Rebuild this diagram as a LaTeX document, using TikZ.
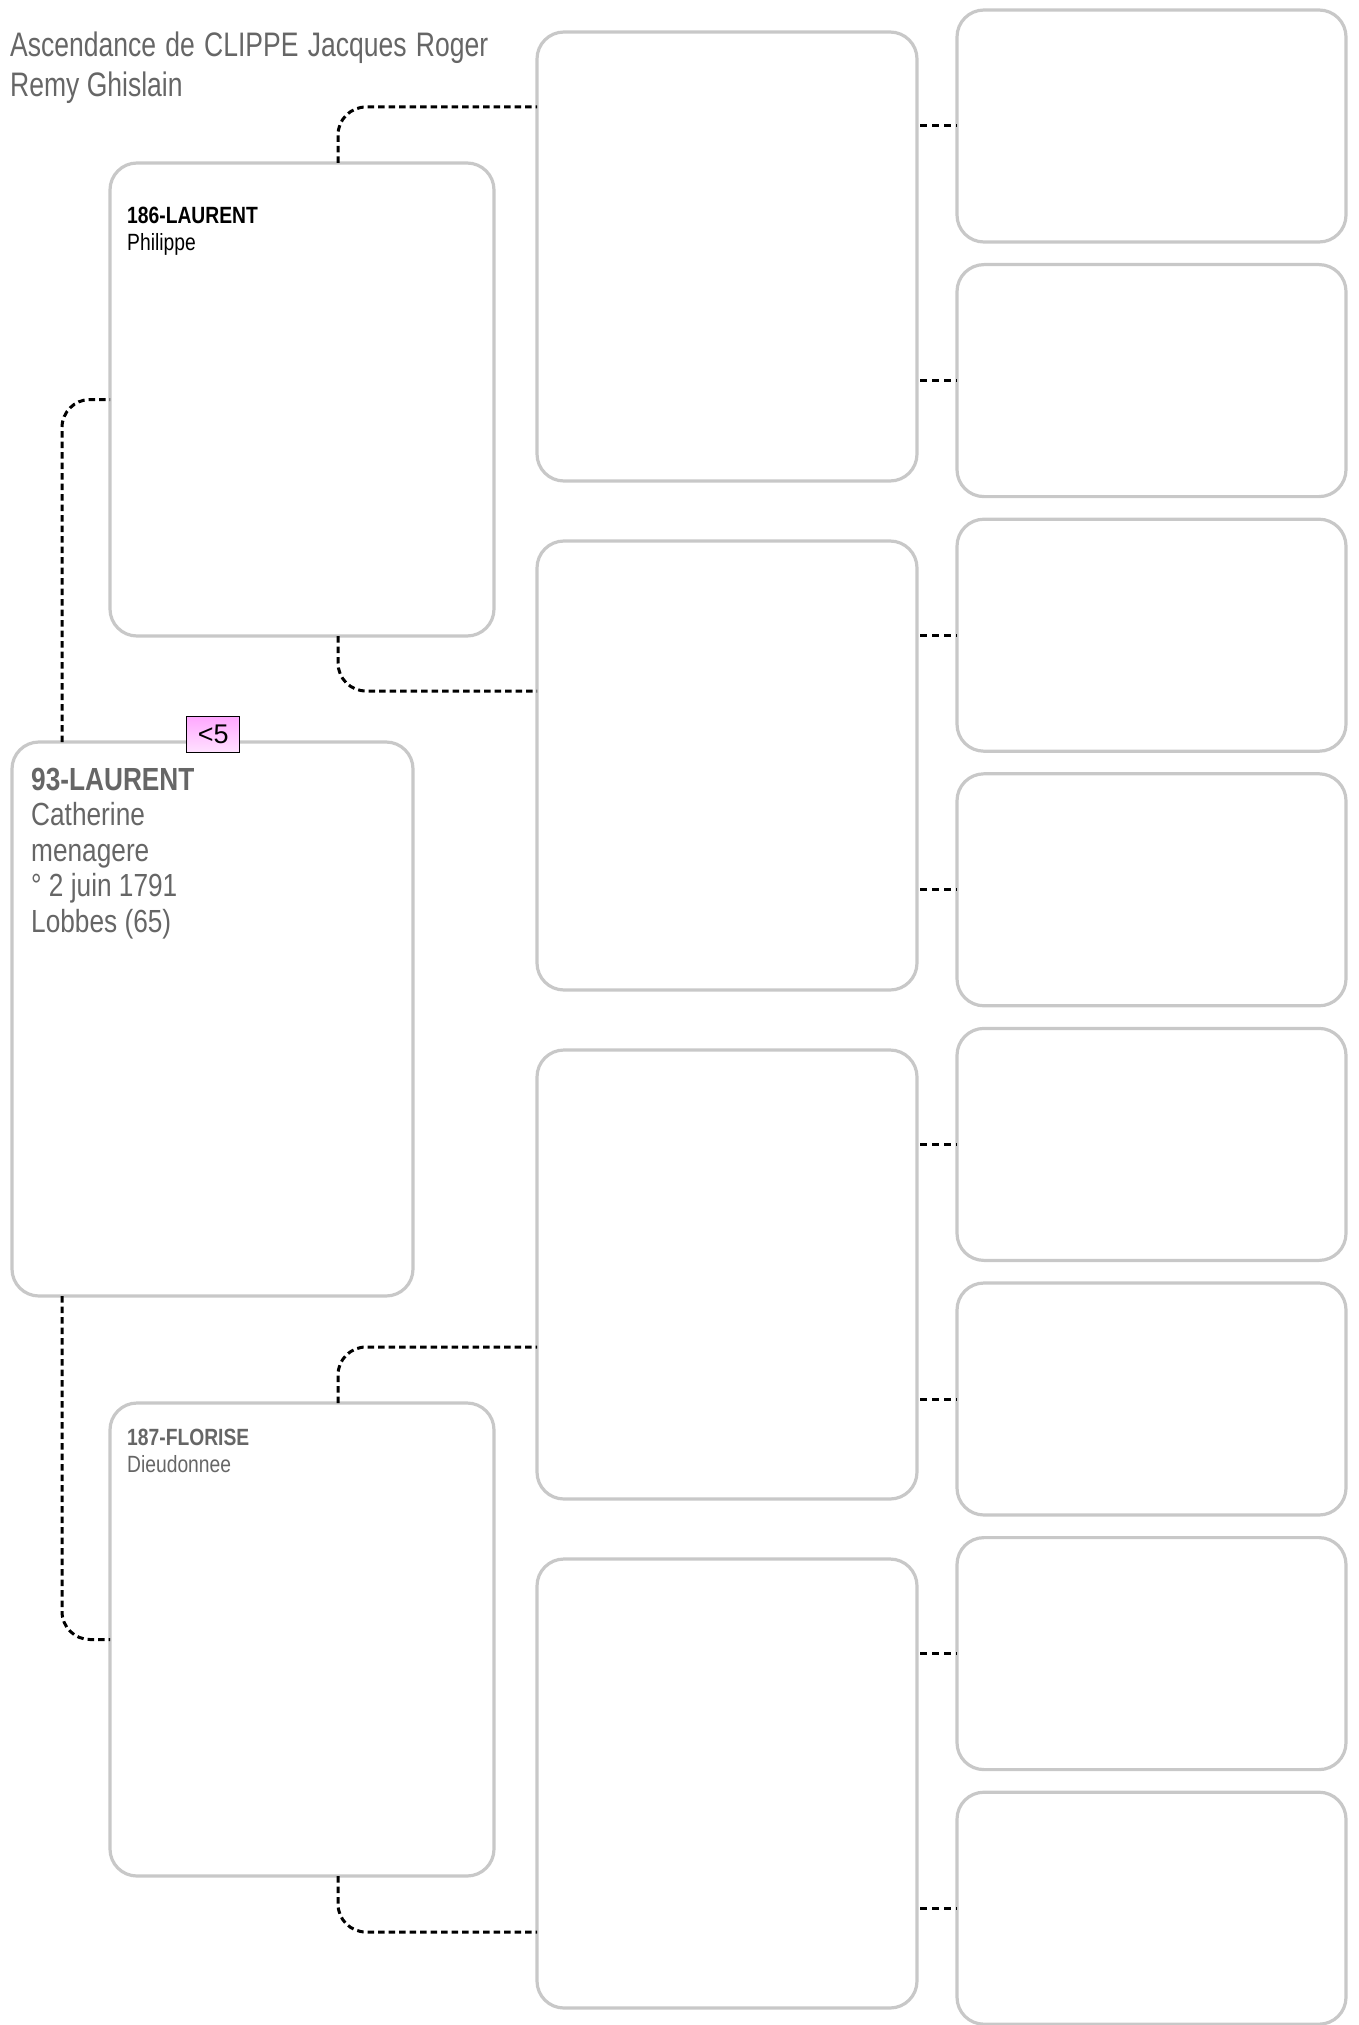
\documentclass[tikz,border=0pt]{standalone}
\usepackage{fontspec}
\setmainfont{Liberation Sans}
\newfontfamily\nar{Liberation Sans}[FakeStretch=0.82]
\newfontfamily\narttl{Liberation Sans}[FakeStretch=0.78]
\usetikzlibrary{calc}
\definecolor{boxgrey}{HTML}{C8C8C8}
\definecolor{txtgrey}{HTML}{666666}
\definecolor{pinktop}{HTML}{FFA8FF}
\definecolor{pinkbot}{HTML}{FFE2FF}
\begin{document}
\begin{tikzpicture}[x=1pt,y=-1pt,
  pbox/.style={draw=boxgrey, line width=3.2pt, rounded corners=27pt, inner sep=0pt, outer sep=0pt, anchor=north west},
  gthree/.style={pbox, minimum width=380pt, minimum height=449pt},
  gfour/.style={pbox, minimum width=389pt, minimum height=232pt},
  conn/.style={draw=black, line width=3pt, dash pattern=on 6.5pt off 4pt, rounded corners=28pt},
  stub/.style={draw=black, line width=3pt, dash pattern=on 7pt off 5pt},
  ttl/.style={anchor=base west, inner sep=0pt, text=txtgrey, font=\narttl\fontsize{34}{36}\selectfont},
  gone/.style={anchor=base west, inner sep=0pt, text=txtgrey, font=\nar\fontsize{32}{35}\selectfont},
  gtwo/.style={anchor=base west, inner sep=0pt, font=\nar\fontsize{23.5}{25}\selectfont},
  ]
\useasboundingbox (0,0) rectangle (1358,2025);

% boxes
\node[pbox, minimum width=401pt, minimum height=554pt] (g1) at (12,742) {};
\node[pbox, minimum width=384pt, minimum height=473pt] (p186) at (110,163) {};
\node[pbox, minimum width=384pt, minimum height=473pt] (p187) at (110,1403) {};

\node[gthree] (g3a) at (537,32) {};
\node[gthree] (g3b) at (537,541) {};
\node[gthree] (g3c) at (537,1050) {};
\node[gthree] (g3d) at (537,1559) {};

\node[gfour] (g4a) at (957,10) {};
\node[gfour] (g4b) at (957,264.6) {};
\node[gfour] (g4c) at (957,519.2) {};
\node[gfour] (g4d) at (957,773.8) {};
\node[gfour] (g4e) at (957,1028.4) {};
\node[gfour] (g4f) at (957,1283) {};
\node[gfour] (g4g) at (957,1537.6) {};
\node[gfour] (g4h) at (957,1792.2) {};

% connector levels
\coordinate (k186t) at (0,107);
\coordinate (k186b) at (0,691);
\coordinate (k187t) at (0,1347);
\coordinate (k187b) at (0,1932);

% gen1 -> gen2
\draw[conn] ([xshift=50pt]g1.north west) |- (p186.west);
\draw[conn] ([xshift=50pt]g1.south west) |- (p187.west);

% gen2 -> gen3
\draw[conn] ([xshift=228pt]p186.north west) |- (g3a.west |- k186t);
\draw[conn] ([xshift=228pt]p186.south west) |- (g3b.west |- k186b);
\draw[conn] ([xshift=228pt]p187.north west) |- (g3c.west |- k187t);
\draw[conn] ([xshift=228pt]p187.south west) |- (g3d.west |- k187b);

% gen3 -> gen4
\draw[stub] ([xshift=3pt]g3a.east |- g4a.west) -- (g4a.west);
\draw[stub] ([xshift=3pt]g3a.east |- g4b.west) -- (g4b.west);
\draw[stub] ([xshift=3pt]g3b.east |- g4c.west) -- (g4c.west);
\draw[stub] ([xshift=3pt]g3b.east |- g4d.west) -- (g4d.west);
\draw[stub] ([xshift=3pt]g3c.east |- g4e.west) -- (g4e.west);
\draw[stub] ([xshift=3pt]g3c.east |- g4f.west) -- (g4f.west);
\draw[stub] ([xshift=3pt]g3d.east |- g4g.west) -- (g4g.west);
\draw[stub] ([xshift=3pt]g3d.east |- g4h.west) -- (g4h.west);

% title
\node[ttl] (title1) at (10,57) {\hbox to 478pt{Ascendance\hfill de\hfill CLIPPE\hfill Jacques\hfill Roger}};
\node[ttl] (title2) at (10,97) {Remy Ghislain};

% gen1 text
\node[gone] (t93a) at (31,790) {\bfseries 93-LAURENT};
\node[gone] (t93b) at (31,825) {Catherine};
\node[gone] (t93c) at (31,861) {menagere};
\node[gone] (t93d) at (31,896) {° 2 juin 1791};
\node[gone] (t93e) at (31,932) {Lobbes (65)};

% <5 tag
\node[draw=black, line width=1.3pt, top color=pinktop, bottom color=pinkbot,
      minimum width=53pt, minimum height=36pt, inner sep=0pt, anchor=north west,
      font=\fontsize{27}{27}\selectfont] (lt5) at (186,716) {<5};

% gen2 text
\node[gtwo, text=black] (t186a) at (127,224) {\bfseries 186-LAURENT};
\node[gtwo, text=black] (t186b) at (127,251) {Philippe};
\node[gtwo, text=txtgrey] (t187a) at (127,1445) {\bfseries 187-FLORISE};
\node[gtwo, text=txtgrey] (t187b) at (127,1472) {Dieudonnee};
\end{tikzpicture}
\end{document}
